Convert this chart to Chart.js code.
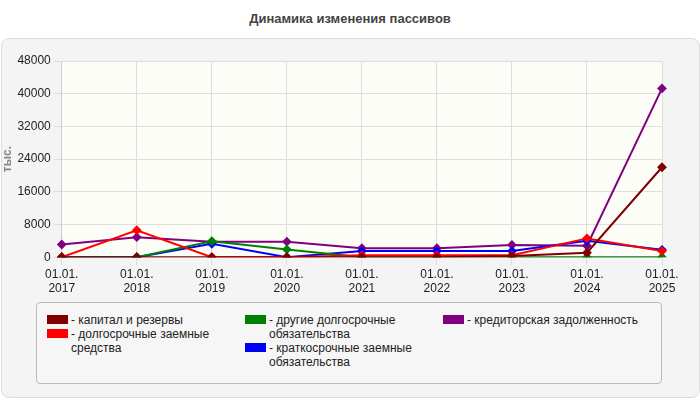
<!DOCTYPE html>
<html><head><meta charset="utf-8">
<script src="https://cdn.jsdelivr.net/npm/chart.js@4"></script>
<style>
body{margin:0;width:700px;height:400px;background:#fff;font-family:"Liberation Sans",Arial,sans-serif;position:relative;overflow:hidden}
#title{position:absolute;top:11px;width:700px;text-align:center;font-weight:bold;font-size:13px;color:#444}
#panel{position:absolute;left:1px;top:38px;width:697px;height:358px;background:#f4f4f4;border:1px solid #ddd;border-radius:8px}
#wrap{position:absolute;left:0;top:42px;width:700px;height:256px}
#legend{position:absolute;left:36px;top:302px;width:624px;height:80px;border:1px solid #bbb;border-radius:4px;background:#f6f6f6;font-size:12px;color:#222}
.it{position:absolute;display:flex;line-height:14px}
.sw{width:21px;height:9px;margin:2px 3px 0 0;flex:none}
</style></head><body>
<div id="title">Динамика изменения пассивов</div>
<div id="panel"></div>
<div id="wrap"><canvas id="c"></canvas></div>
<div id="legend"></div>
<script>
const labels = [["01.01.","2017"],["01.01.","2018"],["01.01.","2019"],["01.01.","2020"],["01.01.","2021"],["01.01.","2022"],["01.01.","2023"],["01.01.","2024"],["01.01.","2025"]];
const capital = [0, 0, 0, 0, 0, 0, 300, 1100, 22000];
const longLoans = [0, 6600, 0, 0, 500, 500, 500, 4600, 1500];
const otherLong = [0, 0, 3900, 1900, 0, 0, 0, 0, 0];
const shortLoans = [0, 0, 3300, 0, 1500, 1500, 1500, 4000, 1800];
const payables = [3100, 4900, 3800, 3800, 2200, 2200, 3000, 2800, 41300];

const series = [
  {label:"- капитал и резервы", data:capital, color:"#800000", pos:[10,10], w:185},
  {label:"- долгосрочные заемные средства", data:longLoans, color:"#ff0000", pos:[10,24], w:185},
  {label:"- другие долгосрочные обязательства", data:otherLong, color:"#008000", pos:[208,10], w:185},
  {label:"- краткосрочные заемные обязательства", data:shortLoans, color:"#0000ff", pos:[208,38], w:185},
  {label:"- кредиторская задолженность", data:payables, color:"#800080", pos:[406,10], w:215}
];
const leg = document.getElementById("legend");
series.forEach(s => {
  const d = document.createElement("div");
  d.className = "it";
  d.style.left = s.pos[0]+"px"; d.style.top = s.pos[1]+"px"; d.style.width = s.w+"px";
  d.innerHTML = '<div class="sw" style="background:'+s.color+'"></div><div>'+s.label+'</div>';
  leg.appendChild(d);
});
Chart.defaults.font.family = '"Liberation Sans", Arial, sans-serif';
const bgPlugin = {id:"bg", beforeDraw(ch){const a=ch.chartArea,c=ch.ctx;c.save();c.fillStyle="#fdfdf7";c.fillRect(a.left,a.top,a.right-a.left,a.bottom-a.top);c.restore();}};
new Chart(document.getElementById("c"), {
  type:"line",
  data:{labels, datasets: series.map(s => ({label:s.label, data:s.data, borderColor:s.color, backgroundColor:s.color, borderWidth:2, pointRadius:3.5, pointStyle:"rectRot", tension:0}))},
  options:{
    responsive:true, maintainAspectRatio:false, animation:false,
    layout:{padding:{left:0,right:38,top:19,bottom:0}},
    plugins:{legend:{display:false}, tooltip:{enabled:false}},
    scales:{
      x:{grid:{color:"#ddd", borderDash:[4,4]}, border:{color:"#ccc"}, ticks:{color:"#222", font:{size:12}, maxRotation:0, padding:2}},
      y:{min:0, max:48000, ticks:{stepSize:8000, color:"#222", font:{size:12}, callback:v => String(v)}, grid:{color:"#ddd", borderDash:[4,4]}, border:{color:"#ccc"},
         title:{display:true, text:"тыс.", color:"#888", padding:{top:0,bottom:0}, font:{size:12, weight:"bold"}}}
    }
  },
  plugins:[bgPlugin]
});
</script></body></html>
